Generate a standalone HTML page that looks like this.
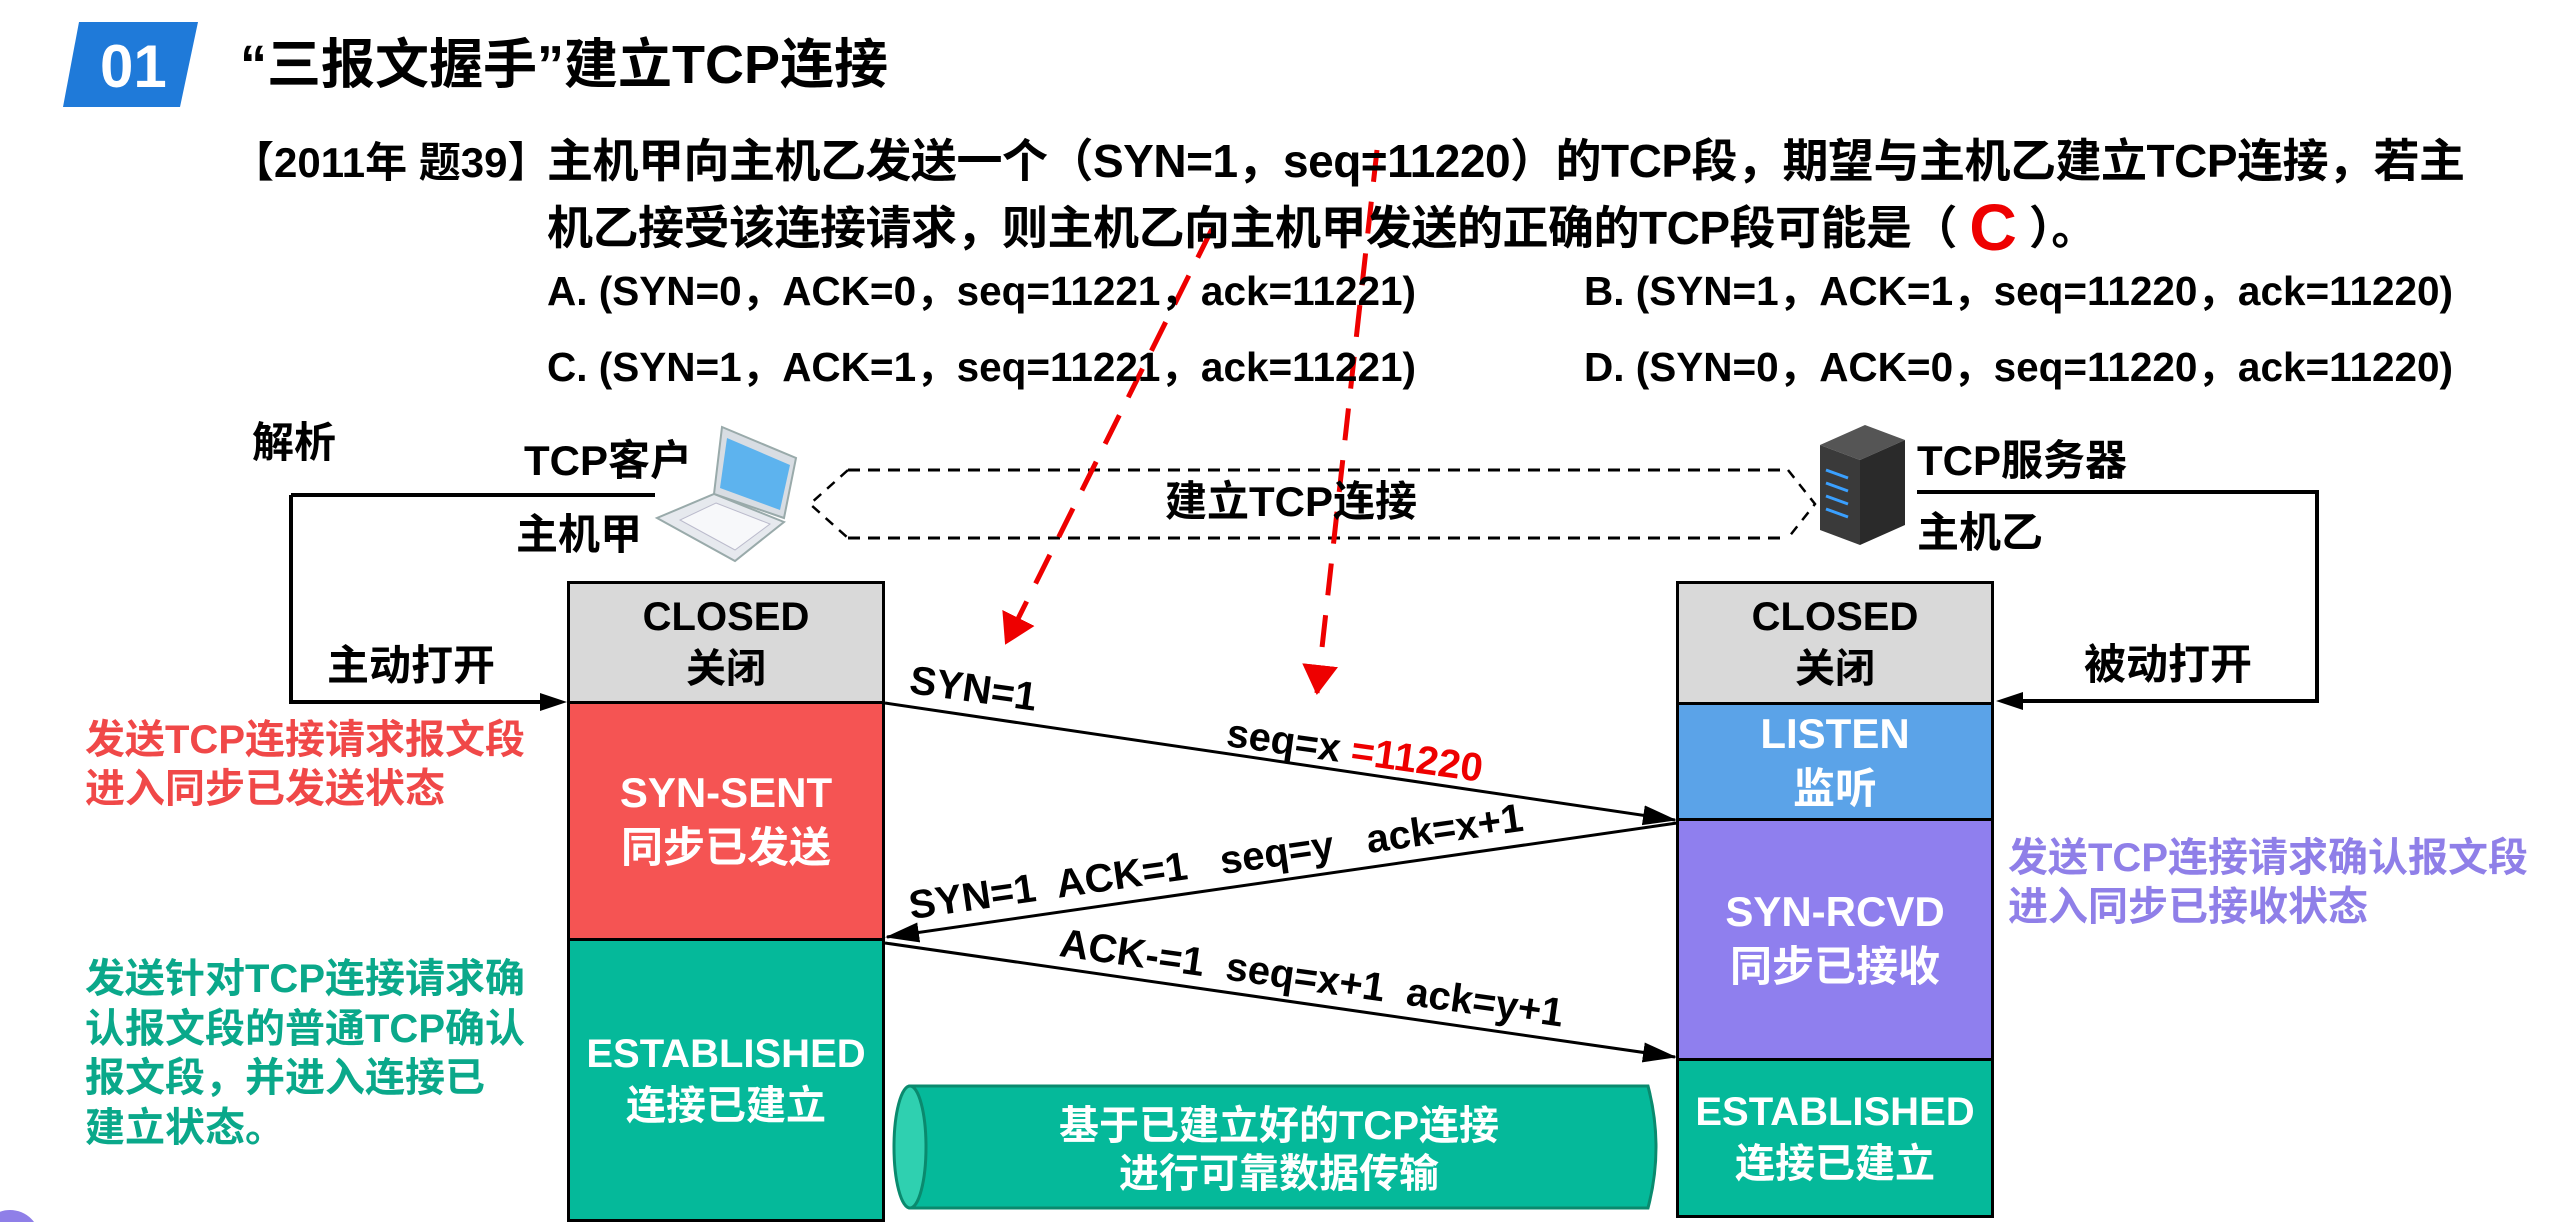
<!DOCTYPE html>
<html><head><meta charset="utf-8">
<style>
html,body{margin:0;padding:0;background:#fff;}
#c{position:relative;width:2560px;height:1222px;overflow:hidden;background:#fff;font-family:"Liberation Sans","Noto Sans CJK SC",sans-serif;font-weight:bold;color:#000;}
.t{position:absolute;white-space:nowrap;line-height:1;}
.box{position:absolute;box-sizing:border-box;border:3px solid #000;display:flex;flex-direction:column;align-items:center;justify-content:center;color:#fff;font-size:42px;line-height:1.3;text-align:center;}
svg{position:absolute;left:0;top:0;}
</style></head><body><div id="c">
<svg width="2560" height="1222" viewBox="0 0 2560 1222">
<defs>
<marker id="abk" markerWidth="34" markerHeight="20" refX="32" refY="10" orient="auto" markerUnits="userSpaceOnUse"><path d="M0,0 L34,10 L0,20z" fill="#000"/></marker>
<marker id="ar" markerWidth="30" markerHeight="36" refX="28" refY="18" orient="auto" markerUnits="userSpaceOnUse"><path d="M0,0 L30,18 L0,36z" fill="#e00"/></marker>
</defs>
<polygon points="79,22 198,22 180,107 63,107" fill="#1f7ad9"/>
<path d="M848,470 L1788,470 M848,538 L1788,538" stroke="#000" stroke-width="3" stroke-dasharray="12,8" fill="none"/>
<path d="M848,470 L810,504 L848,538 M1788,470 L1815,504 L1788,538" stroke="#000" stroke-width="2.5" stroke-dasharray="10,8" fill="none"/>
<path d="M291,495 L655,495 M291,495 L291,702 L560,702" stroke="#000" stroke-width="4" fill="none"/>
<polygon points="567,702 540,693 540,711" fill="#000"/>
<path d="M1917,492 L2317,492 L2317,701 L2005,701" stroke="#000" stroke-width="4" fill="none"/>
<polygon points="1996,701 2023,692 2023,710" fill="#000"/>
<line x1="885" y1="703" x2="1675" y2="820" stroke="#000" stroke-width="3" marker-end="url(#abk)"/>
<line x1="1677" y1="823" x2="887" y2="937" stroke="#000" stroke-width="3" marker-end="url(#abk)"/>
<line x1="885" y1="943" x2="1675" y2="1057" stroke="#000" stroke-width="3" marker-end="url(#abk)"/>
<line x1="1212" y1="229" x2="1006" y2="643" stroke="#e00" stroke-width="5" stroke-dasharray="32,20" marker-end="url(#ar)"/>
<line x1="1377" y1="150" x2="1317" y2="693" stroke="#e00" stroke-width="5" stroke-dasharray="32,20" marker-end="url(#ar)"/>
<polygon points="722,427 796,458 784,518 714,494" fill="#d8dde3" stroke="#9aa" stroke-width="2"/>
<polygon points="727,438 790,465 780,510 720,488" fill="#5db3ee"/>
<polygon points="714,494 784,522 735,561 657,518" fill="#e6e9ee" stroke="#9aa" stroke-width="2"/>
<polygon points="716,503 770,524 735,550 680,520" fill="#f7f8fa" stroke="#bbc" stroke-width="1"/>
<polygon points="1820,445 1865,425 1905,440 1860,460" fill="#555"/>
<polygon points="1820,445 1860,460 1860,545 1820,530" fill="#3a3a3a"/>
<polygon points="1860,460 1905,440 1905,525 1860,545" fill="#2a2a2a"/>
<g stroke="#3aa0ff" stroke-width="3"><line x1="1826" y1="470" x2="1848" y2="478"/><line x1="1826" y1="483" x2="1848" y2="491"/><line x1="1826" y1="496" x2="1848" y2="504"/><line x1="1826" y1="509" x2="1848" y2="517"/></g>
<path d="M910,1086 L1648,1086 Q1664,1147 1648,1208 L910,1208 Z" fill="#05b99a" stroke="#0a8a6e" stroke-width="3"/>
<ellipse cx="910" cy="1147" rx="16" ry="61" fill="#2fd0b0" stroke="#0a8a6e" stroke-width="3"/>
<circle cx="10" cy="1240" r="30" fill="#8f7fe8"/>
</svg>

<div class="t" style="left:100px;top:37px;font-size:60px;color:#fff;">01</div>
<div class="t" style="left:240px;top:38px;font-size:54px;">“三报文握手”建立TCP连接</div>

<div class="t" style="left:232px;top:142px;font-size:42px;">【2011年 题39】</div>
<div class="t" style="left:547px;top:138px;font-size:46px;letter-spacing:-0.5px;">主机甲向主机乙发送一个（SYN=1，seq=11220）的TCP段，期望与主机乙建立TCP连接，若主</div>
<div class="t" style="left:547px;top:194px;font-size:46px;letter-spacing:-0.5px;">机乙接受该连接请求，则主机乙向主机甲发送的正确的TCP段可能是（ <span style="color:#e00;font-size:66px;vertical-align:-6px;">C</span> ）。</div>
<div class="t" style="left:547px;top:271px;font-size:40.5px;">A. (SYN=0，ACK=0，seq=11221，ack=11221)</div>
<div class="t" style="left:1584px;top:271px;font-size:40.5px;">B. (SYN=1，ACK=1，seq=11220，ack=11220)</div>
<div class="t" style="left:547px;top:347px;font-size:40.5px;">C. (SYN=1，ACK=1，seq=11221，ack=11221)</div>
<div class="t" style="left:1584px;top:347px;font-size:40.5px;">D. (SYN=0，ACK=0，seq=11220，ack=11220)</div>

<div class="t" style="left:252px;top:422px;font-size:42px;">解析</div>
<div class="t" style="left:524px;top:440px;font-size:42px;">TCP客户</div>
<div class="t" style="left:516px;top:514px;font-size:42px;">主机甲</div>
<div class="t" style="left:1917px;top:440px;font-size:42px;">TCP服务器</div>
<div class="t" style="left:1917px;top:512px;font-size:42px;">主机乙</div>
<div class="t" style="left:1165px;top:481px;font-size:42px;">建立TCP连接</div>
<div class="t" style="left:327px;top:645px;font-size:42px;">主动打开</div>
<div class="t" style="left:2084px;top:644px;font-size:42px;">被动打开</div>

<div class="box" style="left:567px;top:581px;width:318px;height:123px;background:#d9d9d9;color:#000;font-size:40px;">CLOSED<br>关闭</div>
<div class="box" style="left:567px;top:701px;width:318px;height:240px;background:#f55453;">SYN-SENT<br>同步已发送</div>
<div class="box" style="left:567px;top:938px;width:318px;height:284px;background:#05b99a;font-size:40px;">ESTABLISHED<br>连接已建立</div>

<div class="box" style="left:1676px;top:581px;width:318px;height:124px;background:#d9d9d9;color:#000;font-size:40px;">CLOSED<br>关闭</div>
<div class="box" style="left:1676px;top:702px;width:318px;height:119px;background:#5ba3e8;">LISTEN<br>监听</div>
<div class="box" style="left:1676px;top:818px;width:318px;height:243px;background:#8f7fee;">SYN-RCVD<br>同步已接收</div>
<div class="box" style="left:1676px;top:1058px;width:318px;height:160px;background:#05b99a;font-size:40px;">ESTABLISHED<br>连接已建立</div>

<div class="t" style="left:85px;top:716px;font-size:40px;color:#f04848;line-height:1.22;">发送TCP连接请求报文段<br>进入同步已发送状态</div>
<div class="t" style="left:85px;top:955px;font-size:40px;color:#0aa88a;line-height:1.24;">发送针对TCP连接请求确<br>认报文段的普通TCP确认<br>报文段，并进入连接已<br>建立状态。</div>
<div class="t" style="left:2008px;top:834px;font-size:40px;color:#8f7fe8;line-height:1.22;">发送TCP连接请求确认报文段<br>进入同步已接收状态</div>

<div class="t" style="left:910px;top:660px;font-size:40px;transform:rotate(8deg);transform-origin:left center;">SYN=1</div>
<div class="t" style="left:1227px;top:713px;font-size:40px;transform:rotate(8deg);transform-origin:left center;">seq=x <span style="color:#e00;">=11220</span></div>
<div class="t" style="left:912px;top:886px;font-size:40px;transform:rotate(-8.2deg);transform-origin:left bottom;">SYN=1&nbsp; ACK=1 &nbsp; seq=y &nbsp; ack=x+1</div>
<div class="t" style="left:1060px;top:923px;font-size:40px;transform:rotate(8deg);transform-origin:left center;">ACK-=1&nbsp; seq=x+1&nbsp; ack=y+1</div>

<div class="t" style="left:1029px;top:1102px;font-size:40px;color:#fff;text-align:center;line-height:1.2;width:500px;">基于已建立好的TCP连接<br>进行可靠数据传输</div>
</div></body></html>
